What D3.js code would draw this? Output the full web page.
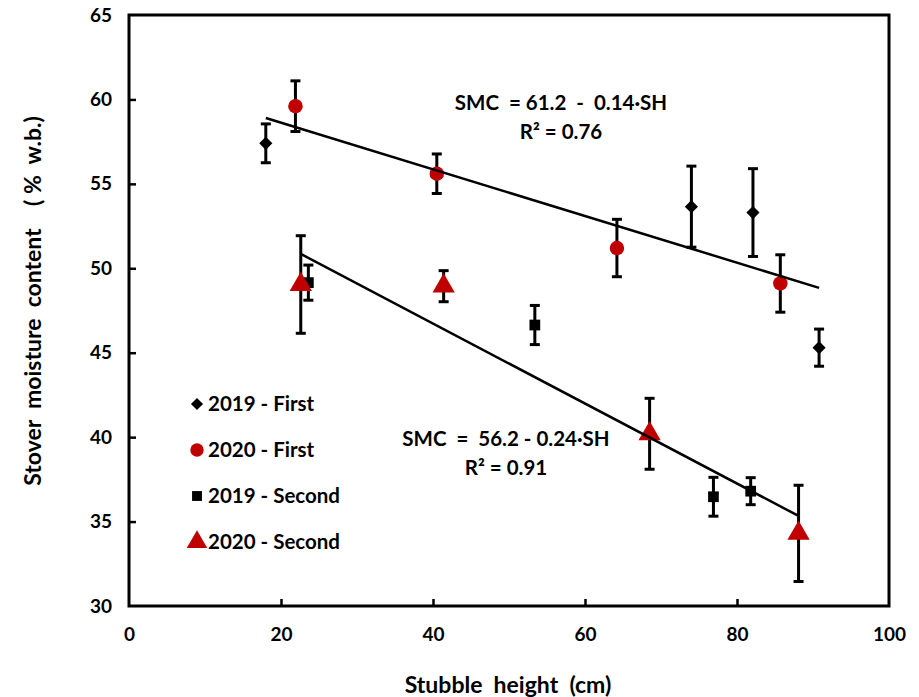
<!DOCTYPE html>
<html>
<head>
<meta charset="utf-8">
<script src="https://cdn.jsdelivr.net/npm/d3@7"></script>
<style>
  body { margin: 0; background: #fff; }
  text { font-family: Lato, "Open Sans", sans-serif; font-weight: bold; fill: #000; }
</style>
</head>
<body>
<svg id="chart"></svg>
<script>
// values
const first2019X = [18.0, 74.0, 82.1, 90.8];
const first2019Y = [57.4, 53.65, 53.3, 45.3];
const first2019E = [1.15, 2.4, 2.6, 1.1];

const first2020X = [21.9, 40.5, 64.2, 85.7];
const first2020Y = [59.6, 55.6, 51.2, 49.1];
const first2020E = [1.5, 1.17, 1.7, 1.7];

const second2019X = [23.6, 53.4, 76.9, 81.8];
const second2019Y = [49.15, 46.64, 36.47, 36.8];
const second2019E = [1.04, 1.16, 1.15, 0.8];

const second2020X = [22.6, 41.4, 68.5, 88.1];
const second2020Y = [49.04, 48.94, 40.2, 34.3];
const second2020E = [2.89, 0.92, 2.1, 2.85];

const xTicks = [0, 20, 40, 60, 80, 100];
const yTicks = [30, 35, 40, 45, 50, 55, 60, 65];

const legendLabels = ["2019 - First", "2020 - First", "2019 - Second", "2020 - Second"];
const eqFirst = ["SMC  = 61.2  -  0.14\u00b7SH", "R\u00b2 = 0.76"];
const eqSecond = ["SMC  =  56.2 - 0.24\u00b7SH", "R\u00b2 = 0.91"];

const width = 919, height = 697;
const margin = { top: 15, right: 30, bottom: 91, left: 129 };
const red = "#c00000";

const svg = d3.select("#chart")
    .attr("width", width)
    .attr("height", height);

const x = d3.scaleLinear().domain([0, 100]).range([margin.left, width - margin.right]);
const y = d3.scaleLinear().domain([30, 65]).range([height - margin.bottom, margin.top]);

const zip = (xs, ys, es) => xs.map((v, i) => ({ x: v, y: ys[i], e: es[i] }));

const series = [
    { data: zip(first2019X, first2019Y, first2019E), shape: d3.symbolDiamond2, size: 110, fill: "#000" },
    { data: zip(first2020X, first2020Y, first2020E), shape: d3.symbolCircle, size: 165, fill: red },
    { data: zip(second2019X, second2019Y, second2019E), shape: d3.symbolSquare, size: 115, fill: "#000" },
    { data: zip(second2020X, second2020Y, second2020E), shape: d3.symbolTriangle, size: 215, fill: red }
];

// axes (ticks point inward)
svg.append("g")
    .attr("transform", `translate(0,${y(30)})`)
    .call(d3.axisBottom(x).tickValues(xTicks).tickSizeInner(-7).tickSizeOuter(0).tickPadding(22))
    .call(g => g.select(".domain").remove())
    .call(g => g.selectAll(".tick line").attr("stroke-width", 2.5).filter(d => d === 0 || d === 100).remove())
    .call(g => g.selectAll("text").attr("font-size", 19).attr("font-family", null));

svg.append("g")
    .attr("transform", `translate(${x(0)},0)`)
    .call(d3.axisLeft(y).tickValues(yTicks).tickSizeInner(-7).tickSizeOuter(0).tickPadding(17))
    .call(g => g.select(".domain").remove())
    .call(g => g.selectAll(".tick line").attr("stroke-width", 2.5).filter(d => d === 30 || d === 65).remove())
    .call(g => g.selectAll("text").attr("font-size", 19).attr("font-family", null));

svg.append("rect")
    .attr("x", x(0)).attr("y", y(65))
    .attr("width", x(100) - x(0)).attr("height", y(30) - y(65))
    .attr("fill", "none").attr("stroke", "#000").attr("stroke-width", 3);

// axis titles
svg.append("text")
    .attr("x", 508).attr("y", 693)
    .attr("text-anchor", "middle")
    .attr("font-size", 23)
    .style("white-space", "pre")
    .text("Stubble  height  (cm)");

svg.append("text")
    .attr("transform", "translate(41,301) rotate(-90)")
    .attr("text-anchor", "middle")
    .attr("font-size", 23)
    .style("white-space", "pre")
    .text("Stover  moisture  content    ( %  w.b.)");

// error bars
series.forEach(s => {
    const g = svg.append("g").attr("stroke", "#000").attr("stroke-width", 3);
    s.data.forEach(d => {
        const cx = x(d.x), y1 = y(d.y + d.e), y2 = y(d.y - d.e);
        g.append("line").attr("x1", cx).attr("x2", cx).attr("y1", y1).attr("y2", y2);
        g.append("line").attr("x1", cx - 5).attr("x2", cx + 5).attr("y1", y1).attr("y2", y1);
        g.append("line").attr("x1", cx - 5).attr("x2", cx + 5).attr("y1", y2).attr("y2", y2);
    });
});

// markers
series.forEach(s => {
    svg.append("g")
        .selectAll("path")
        .data(s.data)
        .join("path")
        .attr("d", d3.symbol(s.shape, s.size))
        .attr("transform", d => `translate(${x(d.x)},${y(d.y)})`)
        .attr("fill", s.fill);
});

// least-squares trend lines drawn from the data
function fit(points) {
    const mx = d3.mean(points, d => d.x), my = d3.mean(points, d => d.y);
    const b = d3.sum(points, d => (d.x - mx) * (d.y - my)) / d3.sum(points, d => (d.x - mx) ** 2);
    const a = my - b * mx;
    const [x0, x1] = d3.extent(points, d => d.x);
    return [{ x: x0, y: a + b * x0 }, { x: x1, y: a + b * x1 }];
}

const line = d3.line().x(d => x(d.x)).y(d => y(d.y));
[series[0].data.concat(series[1].data), series[2].data.concat(series[3].data)].forEach(pts => {
    svg.append("path")
        .attr("d", line(fit(pts)))
        .attr("fill", "none")
        .attr("stroke", "#000")
        .attr("stroke-width", 2.5);
});

// equations
function equation(lines, cx, cy) {
    svg.append("g").selectAll("text")
        .data(lines)
        .join("text")
        .attr("x", cx)
        .attr("y", (d, i) => cy + i * 29)
        .attr("text-anchor", "middle")
        .attr("font-size", 20.5)
        .style("white-space", "pre")
        .text(d => d);
}
equation(eqFirst, 561, 110);
equation(eqSecond, 506, 446);

// legend
const legend = svg.append("g");
series.forEach((s, i) => {
    const ly = 404 + i * 46;
    legend.append("path")
        .attr("d", d3.symbol(s.shape, s.size * 0.85))
        .attr("transform", `translate(197,${ly})`)
        .attr("fill", s.fill);
    legend.append("text")
        .attr("x", 208).attr("y", ly + 7)
        .attr("font-size", 20.5)
        .text(legendLabels[i]);
});
</script>
</body>
</html>
